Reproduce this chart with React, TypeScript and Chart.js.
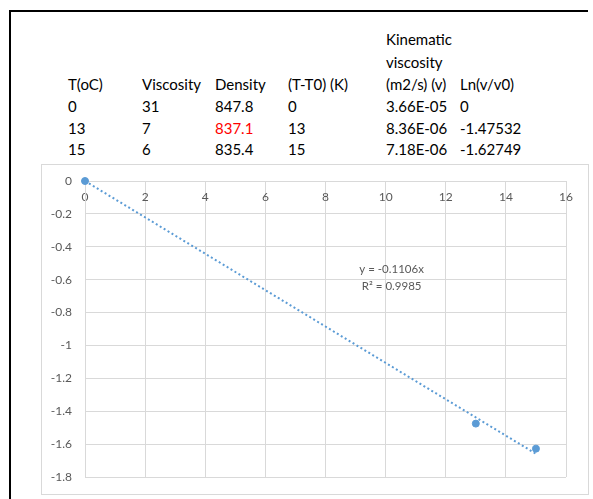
import React, { useEffect, useRef } from "react";
import { Chart, registerables } from "chart.js";

Chart.register(...registerables);

// ---- table data ----
const headers = ["T(oC)", "Viscosity", "Density", "(T-T0) (K)", "(m2/s) (v)", "Ln(v/v0)"];
const kinematicTitle = ["Kinematic", "viscosity"];
const tempC = ["0", "13", "15"];
const viscosity = ["31", "7", "6"];
const density = ["847.8", "837.1", "835.4"];
const deltaTText = ["0", "13", "15"];
const kinematic = ["3.66E-05", "8.36E-06", "7.18E-06"];
const lnRatioText = ["0", "-1.47532", "-1.62749"];

// ---- chart data ----
const deltaT = [0, 13, 15];
const lnRatio = [0, -1.47532, -1.62749];
const trendX = [0, 15];
const trendY = [0, -1.659];
const xTicks = [0, 2, 4, 6, 8, 10, 12, 14, 16];
const xTickLabels = ["0", "2", "4", "6", "8", "10", "12", "14", "16"];
const yTicks = [0, -0.2, -0.4, -0.6, -0.8, -1, -1.2, -1.4, -1.6, -1.8];
const yTickLabels = ["0", "-0.2", "-0.4", "-0.6", "-0.8", "-1", "-1.2", "-1.4", "-1.6", "-1.8"];
const equationLines = ["y = -0.1106x", "R\u00B2 = 0.9985"];

const BLUE = "#5b9bd5";
const GRID = "#d9d9d9";
const LABEL = "#595959";
const FONT = "Lato, 'Open Sans', sans-serif";

const colLeft = [68, 142, 215, 288, 386, 460];
const rowTop = [28, 50.5, 72.5, 94.5, 116.5, 138];

const eqPlugin = {
  id: "equation",
  afterDatasetsDraw(chart: any) {
    const { ctx, scales } = chart;
    const x = scales.x;
    const y = scales.y;
    ctx.save();
    ctx.font = `11.5px ${FONT}`;
    ctx.fillStyle = LABEL;
    ctx.textAlign = "center";
    ctx.textBaseline = "middle";
    ctx.fillText(equationLines[0], x.getPixelForValue(10.2), y.getPixelForValue(-0.535));
    ctx.fillText(equationLines[1], x.getPixelForValue(10.2), y.getPixelForValue(-0.639));
    ctx.restore();
  },
};

function ScatterChart() {
  const ref = useRef<HTMLCanvasElement | null>(null);
  useEffect(() => {
    if (!ref.current) return;
    const chart = new Chart(ref.current, {
      type: "scatter",
      data: {
        datasets: [
          {
            label: "trend",
            data: trendX.map((v, i) => ({ x: v, y: trendY[i] })),
            showLine: true,
            borderColor: BLUE,
            borderWidth: 2,
            borderDash: [2, 2.6],
            pointRadius: 0,
            fill: false,
            clip: false,
          } as any,
          {
            label: "Ln(v/v0)",
            data: deltaT.map((v, i) => ({ x: v, y: lnRatio[i] })),
            backgroundColor: BLUE,
            borderColor: BLUE,
            borderWidth: 1,
            pointRadius: 3.5,
            showLine: false,
            clip: false,
          } as any,
        ],
      },
      options: {
        animation: false,
        responsive: false,
        devicePixelRatio: 1,
        layout: { padding: { top: 16, right: 22, bottom: 17, left: 0 } },
        plugins: { legend: { display: false }, tooltip: { enabled: false } },
        scales: {
          x: {
            type: "linear",
            position: { y: 0 } as any,
            min: 0,
            max: 16,
            afterBuildTicks: (s: any) => {
              s.ticks = xTicks.map((v) => ({ value: v }));
            },
            ticks: {
              callback: (_v: any, i: number) => xTickLabels[i],
              color: LABEL,
              font: { family: FONT, size: 12 },
              padding: 9,
              maxRotation: 0,
            },
            grid: { color: GRID, lineWidth: 1, drawTicks: false },
            border: { color: GRID, width: 1 },
          },
          y: {
            type: "linear",
            position: "left",
            min: -1.8,
            max: 0,
            afterBuildTicks: (s: any) => {
              s.ticks = yTicks.map((v) => ({ value: v }));
            },
            afterFit: (s: any) => {
              s.width = 43;
            },
            ticks: {
              callback: (_v: any, i: number) => yTickLabels[i],
              color: LABEL,
              font: { family: FONT, size: 12 },
              padding: 0,
            },
            grid: { color: GRID, lineWidth: 1, drawTicks: true, tickLength: 13, tickColor: "rgba(0,0,0,0)" },
            border: { color: GRID, width: 1 },
          },
        },
      },
      plugins: [eqPlugin],
    });
    return () => chart.destroy();
  }, []);
  return <canvas ref={ref} width={546} height={329} style={{ width: 546, height: 329, display: "block" }} />;
}

export default function App() {
  const cell = (text: string, col: number, row: number, color = "#000") => (
    <div
      key={`${col}-${row}`}
      style={{
        position: "absolute",
        left: colLeft[col],
        top: rowTop[row],
        lineHeight: "22px",
        fontSize: 15,
        fontFamily: FONT,
        color,
        whiteSpace: "nowrap",
      }}
    >
      {text}
    </div>
  );
  const body: React.ReactNode[] = [];
  for (let r = 0; r < 3; r++) {
    body.push(cell(tempC[r], 0, r + 3));
    body.push(cell(viscosity[r], 1, r + 3));
    body.push(cell(density[r], 2, r + 3, r === 1 ? "#ff0000" : "#000"));
    body.push(cell(deltaTText[r], 3, r + 3));
    body.push(cell(kinematic[r], 4, r + 3));
    body.push(cell(lnRatioText[r], 5, r + 3));
  }
  return (
    <div style={{ position: "absolute", left: 0, top: 0, width: 593, height: 499, background: "#fff", overflow: "hidden" }}>
      <div style={{ position: "absolute", left: 9, top: 10, width: 2, height: 489, background: "#000" }} />
      <div style={{ position: "absolute", left: 9, top: 10, width: 579, height: 2, background: "#000" }} />
      {cell(kinematicTitle[0], 4, 0)}
      {cell(kinematicTitle[1], 4, 1)}
      {headers.map((h, i) => cell(h, i, 2))}
      {body}
      <div
        style={{
          position: "absolute",
          left: 41,
          top: 164,
          width: 548,
          height: 331,
          border: `1px solid ${GRID}`,
          boxSizing: "border-box",
          background: "#fff",
        }}
      >
        <ScatterChart />
      </div>
    </div>
  );
}
